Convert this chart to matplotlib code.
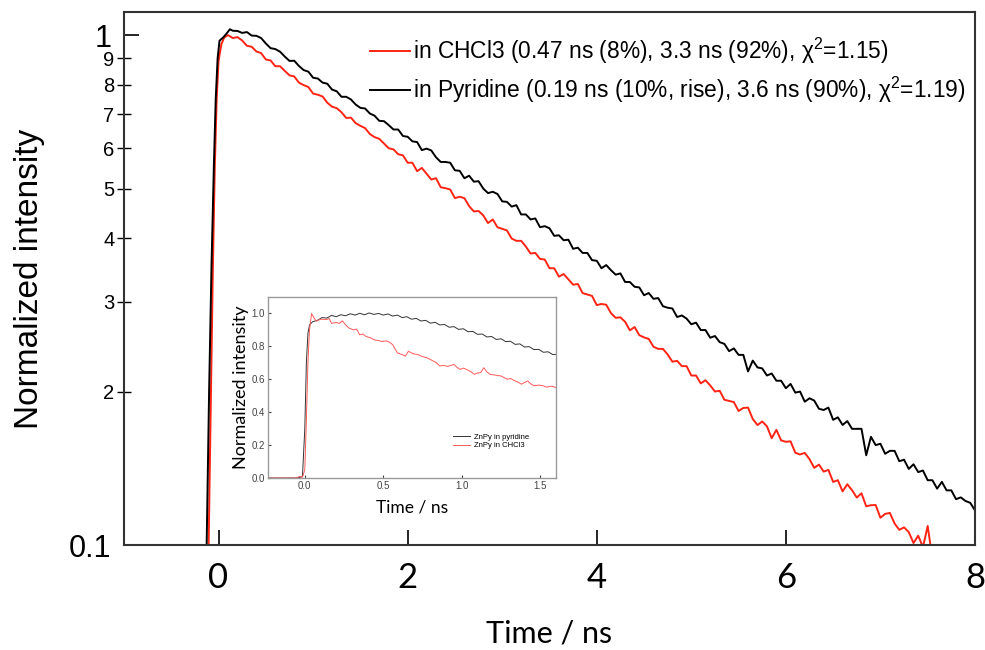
import numpy as np
import matplotlib
matplotlib.use("Agg")
import matplotlib.pyplot as plt

plt.rcParams["font.family"] = ["Liberation Sans", "DejaVu Sans"]
plt.rcParams["mathtext.fontset"] = "custom"
plt.rcParams["mathtext.rm"] = "Liberation Sans"
plt.rcParams["mathtext.it"] = "Liberation Sans:italic"

# ---- main panel: log-scale decays (intensity) ----
DT = 0.05

pyr_rise_t = [-0.30, -0.14, -0.126, -0.10, -0.075, -0.05, -0.03, -0.01, 0.01, 0.05, 0.09, 0.12, 0.15]
pyr_rise_v = [0.002, 0.03, 0.10, 0.20, 0.35, 0.55, 0.75, 0.90, 0.975, 0.99, 1.01, 1.027, 1.02]
pyr_t0 = 0.20
pyr_v = [
    1.019, 1.010, 1.014, 0.998, 0.997,
    0.987, 0.963, 0.943, 0.939, 0.928,
    0.908, 0.890, 0.891, 0.870, 0.854,
    0.848, 0.825, 0.822, 0.807, 0.803,
    0.782, 0.776, 0.757, 0.757, 0.748,
    0.731, 0.720, 0.718, 0.702, 0.695,
    0.679, 0.678, 0.666, 0.653, 0.653,
    0.634, 0.632, 0.619, 0.617, 0.595,
    0.599, 0.594, 0.576, 0.564, 0.564,
    0.562, 0.543, 0.542, 0.524, 0.530,
    0.516, 0.517, 0.500, 0.490, 0.493,
    0.488, 0.472, 0.471, 0.461, 0.464,
    0.445, 0.445, 0.435, 0.437, 0.420,
    0.422, 0.418, 0.404, 0.405, 0.396,
    0.397, 0.381, 0.383, 0.374, 0.374,
    0.362, 0.361, 0.349, 0.354, 0.346,
    0.339, 0.341, 0.328, 0.328, 0.321,
    0.320, 0.309, 0.312, 0.304, 0.305,
    0.294, 0.292, 0.291, 0.280, 0.282,
    0.278, 0.271, 0.273, 0.264, 0.264,
    0.255, 0.257, 0.250, 0.248, 0.240,
    0.243, 0.236, 0.236, 0.219, 0.230,
    0.223, 0.222, 0.215, 0.217, 0.210,
    0.210, 0.203, 0.207, 0.199, 0.200,
    0.191, 0.194, 0.192, 0.185, 0.184,
    0.186, 0.176, 0.178, 0.172, 0.175,
    0.169, 0.169, 0.169, 0.150, 0.163,
    0.157, 0.158, 0.151, 0.153, 0.153,
    0.146, 0.147, 0.141, 0.144, 0.139,
    0.140, 0.134, 0.134, 0.129, 0.133,
    0.128, 0.128, 0.123, 0.124, 0.122,
    0.121, 0.117,
]

chcl3_rise_t = [-0.30, -0.12, -0.105, -0.08, -0.06, -0.04, -0.02, 0.0, 0.03, 0.06, 0.10]
chcl3_rise_v = [0.002, 0.03, 0.10, 0.20, 0.35, 0.55, 0.75, 0.89, 0.96, 0.99, 1.00]
chcl3_t0 = 0.15
chcl3_v = [
    0.987, 0.991, 0.976, 0.953, 0.949,
    0.929, 0.922, 0.896, 0.892, 0.869,
    0.869, 0.851, 0.834, 0.830, 0.807,
    0.798, 0.791, 0.768, 0.764, 0.758,
    0.737, 0.724, 0.719, 0.706, 0.688,
    0.689, 0.672, 0.664, 0.657, 0.640,
    0.631, 0.626, 0.613, 0.600, 0.597,
    0.584, 0.581, 0.562, 0.562, 0.541,
    0.549, 0.535, 0.521, 0.524, 0.503,
    0.501, 0.498, 0.479, 0.482, 0.479,
    0.462, 0.451, 0.452, 0.443, 0.428,
    0.435, 0.420, 0.417, 0.414, 0.399,
    0.395, 0.395, 0.385, 0.373, 0.374,
    0.364, 0.363, 0.349, 0.349, 0.336,
    0.340, 0.332, 0.324, 0.325, 0.312,
    0.310, 0.308, 0.2955, 0.297, 0.296,
    0.285, 0.279, 0.2796, 0.274, 0.2637,
    0.2676, 0.258, 0.2554, 0.2536, 0.2448,
    0.2425, 0.2425, 0.2364, 0.2289, 0.2297,
    0.2243, 0.2243, 0.215, 0.215, 0.2075,
    0.2105, 0.2056, 0.200, 0.2007, 0.1927,
    0.1917, 0.1907, 0.1832, 0.1857, 0.186,
    0.1767, 0.1719, 0.1747, 0.1709, 0.162,
    0.1682, 0.1604, 0.1594, 0.1597, 0.1517,
    0.1505, 0.1516, 0.1474, 0.1417, 0.1438,
    0.1393, 0.1404, 0.133, 0.134, 0.1274,
    0.1316, 0.1281, 0.1239, 0.1263, 0.1191,
    0.1197, 0.1198, 0.1131, 0.1151, 0.1156,
    0.1102, 0.1071, 0.1083, 0.106, 0.1009,
    0.1043, 0.099, 0.109, 0.094, 0.092,
]

LABEL_CHCL3 = "in CHCl3 (0.47 ns (8%), 3.3 ns (92%), \u03c7$^{2}$=1.15)"
LABEL_PYR = "in Pyridine (0.19 ns (10%, rise), 3.6 ns (90%), \u03c7$^{2}$=1.19)"

# ---- inset: linear early-time view ----
ins_pyr_t = [-0.235, -0.10, -0.05, -0.03, -0.015, 0.0, 0.01, 0.02, 0.03, 0.05]
ins_pyr_v = [0.0, 0.0, 0.0, 0.004, 0.01, 0.30, 0.70, 0.88, 0.93, 0.95]
ins_pyr_t0 = 0.08
ins_pyr_dt = 0.03
ins_pyr_vals = [
    0.958, 0.975, 0.972, 0.988, 0.980, 0.992, 0.986, 0.998, 0.990, 1.001,
    0.992, 1.003, 0.994, 1.000, 0.990, 0.997, 0.984, 0.990, 0.975, 0.980,
    0.965, 0.970, 0.954, 0.958, 0.941, 0.946, 0.930, 0.933, 0.916, 0.920,
    0.903, 0.907, 0.889, 0.891, 0.873, 0.875, 0.857, 0.860, 0.842, 0.846,
    0.829, 0.831, 0.812, 0.815, 0.796, 0.798, 0.780, 0.782, 0.764, 0.767,
    0.750, 0.752,
]

ins_chcl3_t = [-0.235, -0.08, -0.05, -0.03, -0.015, 0.0, 0.01, 0.02, 0.03, 0.043,
               0.06, 0.074, 0.10, 0.138, 0.155, 0.17, 0.20, 0.22, 0.24, 0.26,
               0.28, 0.31, 0.33, 0.35, 0.37, 0.39, 0.42, 0.44, 0.47, 0.49,
               0.52, 0.54, 0.56, 0.59, 0.62, 0.64, 0.66, 0.69, 0.72, 0.75,
               0.78, 0.80, 0.82, 0.84, 0.86, 0.88, 0.91, 0.93, 0.95, 0.97,
               0.99, 1.01, 1.03, 1.06, 1.08, 1.10, 1.12, 1.14, 1.16, 1.18,
               1.21, 1.25, 1.27, 1.29, 1.31, 1.34, 1.36, 1.38, 1.40, 1.42,
               1.44, 1.46, 1.49, 1.52, 1.54, 1.57, 1.60]
ins_chcl3_v = [0.0, 0.0, 0.003, 0.01, 0.005, 0.05, 0.35, 0.70, 0.90, 1.00,
               0.97, 0.953, 0.965, 0.963, 0.97, 0.94, 0.945, 0.94, 0.955, 0.93,
               0.912, 0.90, 0.905, 0.87, 0.875, 0.86, 0.852, 0.84, 0.835, 0.83,
               0.833, 0.825, 0.81, 0.76, 0.75, 0.74, 0.77, 0.755, 0.75, 0.738,
               0.73, 0.72, 0.71, 0.70, 0.68, 0.685, 0.678, 0.684, 0.69, 0.672,
               0.66, 0.668, 0.66, 0.645, 0.63, 0.638, 0.64, 0.67, 0.645, 0.63,
               0.626, 0.62, 0.61, 0.60, 0.605, 0.59, 0.582, 0.57, 0.58, 0.59,
               0.572, 0.56, 0.565, 0.56, 0.552, 0.558, 0.55]

RED = "#ff2414"


def main():
    pyr_t = np.concatenate([pyr_rise_t, pyr_t0 + DT * np.arange(len(pyr_v))])
    pyr_y = np.concatenate([pyr_rise_v, pyr_v])
    chcl3_t = np.concatenate([chcl3_rise_t, chcl3_t0 + DT * np.arange(len(chcl3_v))])
    chcl3_y = np.concatenate([chcl3_rise_v, chcl3_v])

    fig = plt.figure(figsize=(9.85, 6.5), dpi=100)
    ax = fig.add_axes([0.1259, 0.1615, 0.8639, 0.82])
    ax.plot(chcl3_t, chcl3_y, color=RED, lw=1.4, label=LABEL_CHCL3)
    ax.plot(pyr_t, pyr_y, color="black", lw=1.4, label=LABEL_PYR)

    ax.set_yscale("log")
    ax.set_ylim(0.1, 1.11)
    ax.set_xlim(-1, 8)
    ax.set_yticks([0.1, 1], labels=["0.1", "1"])
    ax.set_yticks([0.2, 0.3, 0.4, 0.5, 0.6, 0.7, 0.8, 0.9],
                  labels=["2", "3", "4", "5", "6", "7", "8", "9"], minor=True)
    ax.set_xticks([0, 2, 4, 6, 8])
    ax.tick_params(axis="y", which="major", direction="in", length=11, width=1.2,
                   labelsize=22, pad=9)
    ax.tick_params(axis="y", which="minor", direction="inout", length=10, width=1.0,
                   labelsize=14.5, pad=2)
    ax.tick_params(axis="x", which="major", direction="in", length=11, width=1.2,
                   labelsize=25, pad=12)
    ax.tick_params(axis="x", which="minor", length=0)
    for lbl in ax.get_xticklabels():
        lbl.set_fontfamily("Lato")
    for sp in ax.spines.values():
        sp.set_linewidth(1.5)
        sp.set_color("#333333")

    ax.set_ylabel("Normalized intensity", fontsize=24)
    ax.yaxis.set_label_coords(-0.093, 0.5)
    ax.set_xlabel("Time / ns", fontsize=22, family="Lato")
    ax.xaxis.set_label_coords(0.5, -0.14)

    ax.legend(loc="upper right", bbox_to_anchor=(1.0, 0.972), frameon=False,
              fontsize=16.4, handlelength=1.75, handletextpad=0.15, labelspacing=0.38,
              borderaxespad=0.0)

    # --- inset ---
    axin = fig.add_axes([0.272, 0.2646, 0.2924, 0.2785])
    ipt = np.concatenate([ins_pyr_t, ins_pyr_t0 + ins_pyr_dt * np.arange(len(ins_pyr_vals))])
    ipv = np.concatenate([ins_pyr_v, ins_pyr_vals])
    axin.plot(ipt, ipv, color="#333333", lw=0.7, label="ZnPy in pyridine")
    axin.plot(ins_chcl3_t, ins_chcl3_v, color="#ff5a5a", lw=0.7, label="ZnPy in CHCl3")
    axin.set_xlim(-0.235, 1.6)
    axin.set_ylim(0, 1.1)
    axin.set_xticks([0.0, 0.5, 1.0, 1.5])
    axin.set_yticks([0.0, 0.2, 0.4, 0.6, 0.8, 1.0])
    axin.xaxis.set_major_formatter(plt.FormatStrFormatter("%.1f"))
    axin.yaxis.set_major_formatter(plt.FormatStrFormatter("%.1f"))
    axin.tick_params(labelsize=7, colors="#444444", length=2, direction="in", pad=2)
    for sp in axin.spines.values():
        sp.set_color("#9a9a9a")
        sp.set_linewidth(1.0)
    axin.set_ylabel("Normalized intensity", fontsize=13, family="Lato", labelpad=2)
    axin.set_xlabel("Time / ns", fontsize=12.5, family="Lato", labelpad=6)
    axin.legend(loc="lower left", bbox_to_anchor=(0.62, 0.12), frameon=False,
                fontsize=5.5, handlelength=2.2, handletextpad=0.5, labelspacing=0.2)

    fig.savefig("out.png", dpi=100)


if __name__ == "__main__":
    main()
